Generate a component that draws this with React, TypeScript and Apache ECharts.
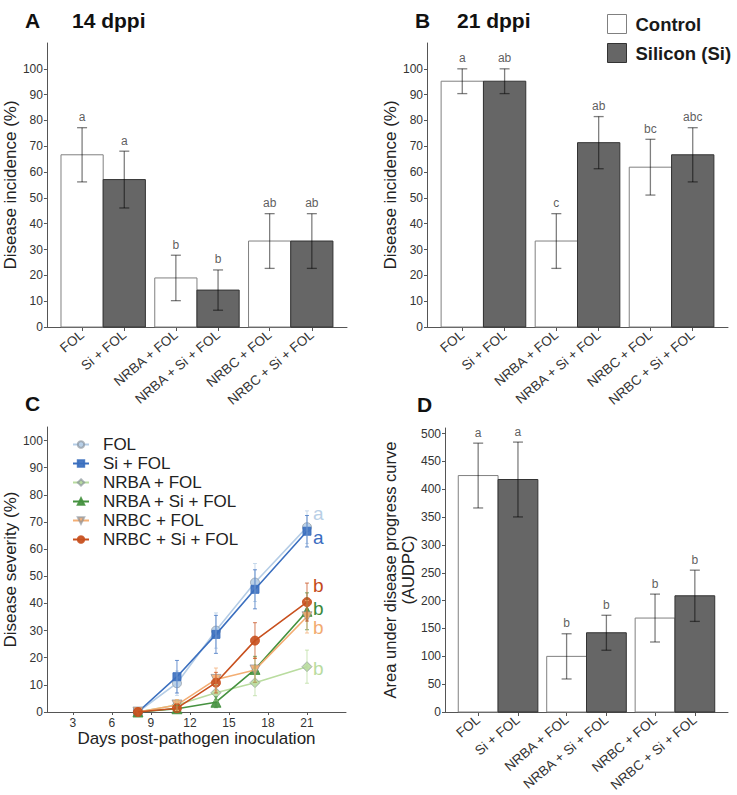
import React, { useEffect, useRef } from "react";
import * as echarts from "echarts";

// ---------- data ----------
const barLabels = ["FOL", "Si + FOL", "NRBA + FOL", "NRBA + Si + FOL", "NRBC + FOL", "NRBC + Si + FOL"];
// bar x positions (groups at 1,2,3; control left, silicon right)
const barPos = [0.775, 1.225, 1.775, 2.225, 2.775, 3.225];

const inc14 = [66.7, 57.1, 19.0, 14.3, 33.3, 33.3];
const inc14Se = [10.5, 11.0, 8.8, 7.8, 10.6, 10.6];
const inc14Letters = ["a", "a", "b", "b", "ab", "ab"];

const inc21 = [95.2, 95.2, 33.3, 71.4, 61.9, 66.7];
const inc21Se = [4.8, 4.8, 10.6, 10.1, 10.8, 10.5];
const inc21Letters = ["a", "ab", "c", "ab", "bc", "abc"];

const audpc = [424.6, 417.5, 99.9, 142.3, 168.7, 208.7];
const audpcSe = [58.2, 67.2, 40.6, 31.4, 43.0, 46.0];
const audpcLetters = ["a", "a", "b", "b", "b", "b"];

const incTicks = [0, 10, 20, 30, 40, 50, 60, 70, 80, 90, 100];
const audpcTicks = [0, 50, 100, 150, 200, 250, 300, 350, 400, 450, 500];
const dayTicks = [3, 6, 9, 12, 15, 18, 21];

const days = [8, 11, 14, 17, 21];
const sevNames = ["FOL", "Si + FOL", "NRBA + FOL", "NRBA + Si + FOL", "NRBC + FOL", "NRBC + Si + FOL"];
const sevFOL = [0, 10.6, 30.0, 47.7, 68.1];
const sevSi = [0, 13.0, 28.6, 45.2, 66.6];
const sevNRBA = [0, 2.6, 7.1, 10.8, 16.7];
const sevNRBASi = [0, 1.2, 3.6, 15.7, 37.1];
const sevNRBC = [0, 2.6, 12.0, 15.5, 35.1];
const sevNRBCSi = [0, 1.4, 10.8, 26.3, 40.5];
const seFOL = [0, 4.5, 6.5, 7.0, 6.0];
const seSi = [0, 6.0, 7.0, 7.2, 5.8];
const seNRBA = [0, 2.0, 3.0, 4.8, 6.1];
const seNRBASi = [0, 1.2, 2.0, 4.8, 6.8];
const seNRBC = [0, 2.0, 4.2, 4.5, 6.0];
const seNRBCSi = [0, 1.5, 3.8, 6.6, 7.0];
const sevLetters = ["a", "a", "b", "b", "b", "b"];

// ---------- styles ----------
const FONT = "Liberation Sans, Arial, Helvetica, sans-serif";
const AXIS = "#555555";
const TXT = "#333333";
const HALF = 0.225;
const sevColors = ["#b5cde6", "#3b6fbf", "#b9dc9f", "#45913f", "#f3ae74", "#c8501e"];
const sevLetterColors = ["#b9cfe6", "#3a6cbf", "#b9dca0", "#3c8a3a", "#f2ab70", "#c44a1a"];
const sevSymbols = ["circle", "rect", "diamond", "triangle", "triangle", "circle"];
const sevRotate = [0, 0, 0, 0, 180, 0];
const sevSizes = [9, 8, 10, 10, 10, 9];
const sevLetterOffset = [-14, 6, 1.6, -3, 10.5, -17];

function App() {
  const ref = useRef<HTMLDivElement>(null);
  useEffect(() => {
    if (!ref.current) return;
    const chart = echarts.init(ref.current, null, { renderer: "svg" });

    const labelFor = (v: number) => {
      for (let i = 0; i < barPos.length; i++) if (Math.abs(barPos[i] - v) < 0.01) return barLabels[i];
      return "";
    };

    const barX = (gridIndex: number) => ({
      type: "value",
      gridIndex,
      min: 0.4,
      max: 3.6,
      splitLine: { show: false },
      axisLine: { show: true, lineStyle: { color: AXIS, width: 1 } },
      axisTick: { show: true, customValues: barPos, length: 4, lineStyle: { color: AXIS } },
      axisLabel: {
        customValues: barPos,
        formatter: (v: number) => labelFor(v),
        rotate: 40,
        margin: 6,
        fontSize: 13.5,
        color: TXT,
        fontFamily: FONT,
      },
    });

    const valY = (
      gridIndex: number,
      max: number,
      ticks: number[],
      name: string,
      nameGap: number,
      nameSize: number
    ) => ({
      type: "value",
      gridIndex,
      min: 0,
      max,
      splitLine: { show: false },
      axisLine: { show: true, lineStyle: { color: AXIS, width: 1 } },
      axisTick: { show: true, customValues: ticks, length: 3, lineStyle: { color: AXIS } },
      axisLabel: { customValues: ticks, fontSize: 12, color: TXT, margin: 4, fontFamily: FONT },
      name,
      nameLocation: "middle",
      nameGap,
      nameTextStyle: { fontSize: nameSize, color: "#222222", fontFamily: FONT, lineHeight: 18 },
    });

    const barSeries = (name: string, parity: number, values: number[], se: number[], axisIndex: number) => {
      const idx = [0, 1, 2, 3, 4, 5].filter((i) => i % 2 === parity);
      const fill = parity === 0 ? "#ffffff" : "#666666";
      const stroke = parity === 0 ? "#808080" : "#333333";
      return {
        type: "custom",
        name,
        xAxisIndex: axisIndex,
        yAxisIndex: axisIndex,
        data: idx.map((i) => [barPos[i], values[i], se[i]]),
        encode: { x: 0, y: 1 },
        z: 2,
        renderItem: (params: any, api: any) => {
          const x = api.value(0);
          const y = api.value(1);
          const s = api.value(2);
          const p0 = api.coord([x - HALF, y]);
          const p1 = api.coord([x + HALF, 0]);
          const top = api.coord([x, y + s]);
          const bot = api.coord([x, y - s]);
          const errStyle = { stroke: "rgba(0,0,0,0.5)", lineWidth: 1.3 };
          return {
            type: "group",
            children: [
              {
                type: "rect",
                shape: { x: p0[0], y: p0[1], width: p1[0] - p0[0], height: p1[1] - p0[1] },
                style: { fill, stroke, lineWidth: 1 },
              },
              { type: "line", shape: { x1: top[0], y1: top[1], x2: bot[0], y2: bot[1] }, style: errStyle },
              { type: "line", shape: { x1: top[0] - 5, y1: top[1], x2: top[0] + 5, y2: top[1] }, style: errStyle },
              { type: "line", shape: { x1: bot[0] - 5, y1: bot[1], x2: bot[0] + 5, y2: bot[1] }, style: errStyle },
            ],
          };
        },
      };
    };

    const letterSeries = (values: number[], se: number[], letters: string[], axisIndex: number) => ({
      type: "scatter",
      name: "letters" + axisIndex,
      xAxisIndex: axisIndex,
      yAxisIndex: axisIndex,
      symbolSize: 1,
      itemStyle: { color: "rgba(0,0,0,0)" },
      silent: true,
      z: 4,
      data: values.map((v, i) => ({
        value: [barPos[i], v + se[i]],
        label: {
          show: true,
          position: "top",
          distance: 4,
          formatter: letters[i],
          color: TXT,
          fontSize: 12,
          fontFamily: FONT,
        },
      })),
    });

    const sevData = [sevFOL, sevSi, sevNRBA, sevNRBASi, sevNRBC, sevNRBCSi];
    const sevSe = [seFOL, seSi, seNRBA, seNRBASi, seNRBC, seNRBCSi];

    const lineSeries = sevNames.map((name, k) => ({
      type: "line",
      name,
      xAxisIndex: 2,
      yAxisIndex: 2,
      data: days.map((d, j) => [d, sevData[k][j]]),
      symbol: sevSymbols[k],
      symbolRotate: sevRotate[k],
      symbolSize: sevSizes[k],
      lineStyle: { color: sevColors[k], width: 1.6 },
      itemStyle: {
        color: sevColors[k],
        opacity: 0.9,
        borderColor: k % 2 === 0 ? "rgba(130,140,150,0.7)" : sevColors[k],
        borderWidth: 1,
      },
      z: 2 + k * 0.1,
      endLabel: {
        show: true,
        formatter: sevLetters[k],
        color: sevLetterColors[k],
        fontSize: 19,
        fontFamily: FONT,
        distance: 6,
        offset: [0, sevLetterOffset[k]],
      },
    }));

    const errSeries = sevNames.map((name, k) => ({
      type: "custom",
      name: name + " error",
      xAxisIndex: 2,
      yAxisIndex: 2,
      z: 3,
      data: days.map((d, j) => [d, sevData[k][j], sevSe[k][j]]),
      encode: { x: 0, y: 1 },
      renderItem: (params: any, api: any) => {
        const x = api.value(0);
        const y = api.value(1);
        const s = api.value(2);
        if (!s) return { type: "group", children: [] };
        const top = api.coord([x, y + s]);
        const bot = api.coord([x, y - s]);
        const st = { stroke: sevColors[k], lineWidth: 1, opacity: 0.75 };
        return {
          type: "group",
          children: [
            { type: "line", shape: { x1: top[0], y1: top[1], x2: bot[0], y2: bot[1] }, style: st },
            { type: "line", shape: { x1: top[0] - 2, y1: top[1], x2: top[0] + 2, y2: top[1] }, style: st },
            { type: "line", shape: { x1: bot[0] - 2, y1: bot[1], x2: bot[0] + 2, y2: bot[1] }, style: st },
          ],
        };
      },
    }));

    const titleText = (text: string, x: number, y: number) => ({
      type: "text",
      x,
      y,
      style: {
        text,
        fontSize: 21,
        fontWeight: "bold",
        fontFamily: FONT,
        fill: "#111111",
        verticalAlign: "middle",
      },
    });

    const option: any = {
      animation: false,
      textStyle: { fontFamily: FONT },
      grid: [
        { left: 46, top: 43, width: 301, height: 284 },
        { left: 427, top: 43, width: 301, height: 284 },
        { left: 46, top: 427, width: 300, height: 285 },
        { left: 445, top: 428, width: 283, height: 284 },
      ],
      xAxis: [
        barX(0),
        barX(1),
        {
          type: "value",
          gridIndex: 2,
          min: 1,
          max: 24,
          splitLine: { show: false },
          axisLine: { show: true, lineStyle: { color: AXIS, width: 1 } },
          axisTick: { show: true, customValues: dayTicks, length: 3, lineStyle: { color: AXIS } },
          axisLabel: { customValues: dayTicks, fontSize: 12, color: TXT, margin: 5, fontFamily: FONT },
          name: "Days post-pathogen inoculation",
          nameLocation: "middle",
          nameGap: 17,
          nameTextStyle: { fontSize: 17, color: "#222222", fontFamily: FONT },
        },
        barX(3),
      ],
      yAxis: [
        valY(0, 110, incTicks, "Disease incidence (%)", 26, 17),
        valY(1, 110, incTicks, "Disease incidence (%)", 23, 17),
        valY(2, 105, incTicks, "Disease severity (%)", 26, 17),
        valY(3, 510, audpcTicks, "Area under disease progress curve\n(AUDPC)", 16, 16.5),
      ],
      legend: [
        {
          orient: "vertical",
          left: 607,
          top: 14,
          padding: 0,
          itemWidth: 19,
          itemHeight: 19,
          itemGap: 9,
          icon: "rect",
          selectedMode: false,
          textStyle: { fontSize: 18.5, fontWeight: "bold", color: "#1a1a1a", fontFamily: FONT, padding: [0, 0, 0, 4] },
          data: [
            { name: "Control", itemStyle: { color: "#ffffff", borderColor: "#808080", borderWidth: 1 } },
            { name: "Silicon (Si)", itemStyle: { color: "#666666", borderColor: "#333333", borderWidth: 1 } },
          ],
        },
        {
          orient: "vertical",
          left: 72,
          top: 436,
          padding: 0,
          itemWidth: 16,
          itemHeight: 8,
          itemGap: 2,
          selectedMode: false,
          textStyle: { fontSize: 17, lineHeight: 17, color: "#222222", fontFamily: FONT, padding: [0, 0, 0, 9] },
          data: sevNames,
        },
      ],
      graphic: [
        titleText("A", 25, 20),
        titleText("14 dppi", 72, 20),
        titleText("B", 415, 20),
        titleText("21 dppi", 457, 20),
        titleText("C", 25, 403),
        titleText("D", 417, 404),
      ],
      series: [
        barSeries("Control", 0, inc14, inc14Se, 0),
        barSeries("Silicon (Si)", 1, inc14, inc14Se, 0),
        barSeries("Control", 0, inc21, inc21Se, 1),
        barSeries("Silicon (Si)", 1, inc21, inc21Se, 1),
        barSeries("Control", 0, audpc, audpcSe, 3),
        barSeries("Silicon (Si)", 1, audpc, audpcSe, 3),
        letterSeries(inc14, inc14Se, inc14Letters, 0),
        letterSeries(inc21, inc21Se, inc21Letters, 1),
        letterSeries(audpc, audpcSe, audpcLetters, 3),
        ...lineSeries,
        ...errSeries,
      ],
    };

    chart.setOption(option);
    return () => chart.dispose();
  }, []);

  return (
    <div
      ref={ref}
      style={{ position: "absolute", left: 0, top: 0, width: 737, height: 795, background: "#fff" }}
    />
  );
}

export default App;
